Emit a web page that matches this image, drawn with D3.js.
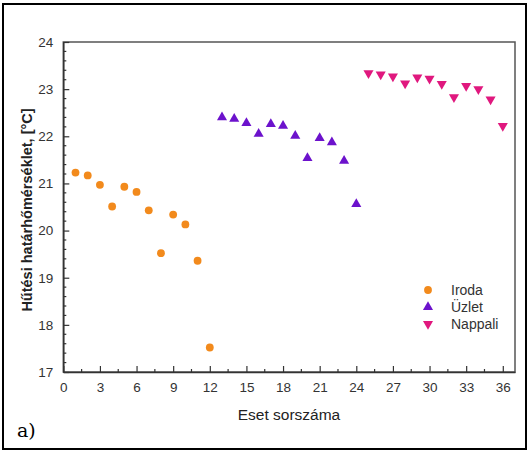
<!DOCTYPE html>
<html><head><meta charset="utf-8">
<script src="https://cdnjs.cloudflare.com/ajax/libs/d3/7.8.5/d3.min.js"></script>
<style>body{margin:0;background:#fff}svg{display:block}</style>
</head><body>
<svg id="c" width="530" height="452"></svg>
<script>
const irodaX = [1,2,3,4,5,6,7,8,9,10,11,12];
const irodaY = [21.23,21.17,20.97,20.51,20.93,20.82,20.43,19.52,20.34,20.13,19.36,17.52];
const uzletX = [13,14,15,16,17,18,19,20,21,22,23,24];
const uzletY = [22.40,22.37,22.28,22.05,22.26,22.22,22.01,21.54,21.96,21.87,21.48,20.56];
const nappaliX = [25,26,27,28,29,30,31,32,33,34,35,36];
const nappaliY = [23.34,23.31,23.27,23.12,23.25,23.22,23.11,22.83,23.07,23.00,22.78,22.22];
const xTicks = [0,3,6,9,12,15,18,21,24,27,30,33,36];
const yTicks = [17,18,19,20,21,22,23,24];
const seriesNames = ["Iroda","Üzlet","Nappali"];
const colors = ["#F28A1C","#6C12CC","#E0187E"];

const svg = d3.select("#c");
const L=63.3, R=515, T=42, B=372;
const x = d3.scaleLinear().domain([0,37]).range([L,R]);
const y = d3.scaleLinear().domain([17,24]).range([B,T]);

svg.append("rect").attr("x",3).attr("y",4).attr("width",523).attr("height",445)
  .attr("fill","none").attr("stroke","#000").attr("stroke-width",2);

svg.append("rect").attr("x",L).attr("y",T).attr("width",R-L).attr("height",B-T)
  .attr("fill","none").attr("stroke","#555").attr("stroke-width",1.5);

const g = svg.append("g");
const xMinor = d3.range(1.5,37,3);
g.selectAll(".xm").data(xMinor).enter().append("line")
  .attr("x1",d=>x(d)).attr("x2",d=>x(d)).attr("y1",B).attr("y2",B-3)
  .attr("stroke","#333").attr("stroke-width",1.2);
const yMinor = d3.range(17,24,0.2).filter(v=>Math.abs(v-Math.round(v))>0.01);
g.selectAll(".ym").data(yMinor).enter().append("line")
  .attr("x1",L).attr("x2",L+3).attr("y1",d=>y(d)).attr("y2",d=>y(d))
  .attr("stroke","#333").attr("stroke-width",1.2);

const xAxis = d3.axisBottom(x).tickValues(xTicks).tickFormat(d3.format("d")).tickSizeInner(-6).tickSizeOuter(0).tickPadding(10);
const gx = svg.append("g").attr("transform",`translate(0,${B})`).call(xAxis);
const yAxis = d3.axisLeft(y).tickValues(yTicks).tickFormat(d3.format("d")).tickSizeInner(-6).tickSizeOuter(0).tickPadding(10);
const gy = svg.append("g").attr("transform",`translate(${L},0)`).call(yAxis);
[gx,gy].forEach(a=>{
  a.select(".domain").attr("stroke","#333").attr("stroke-width",1.5);
  a.selectAll(".tick line").attr("stroke","#333").attr("stroke-width",1.2);
  a.selectAll("text").attr("font-family","Liberation Sans, Arial, sans-serif")
    .attr("font-size",13.5).attr("fill","#333");
});

const circ = d3.symbol().type(d3.symbolCircle).size(48);
const tri = d3.symbol().type(d3.symbolTriangle).size(44);

svg.append("g").selectAll("path").data(irodaX.map((v,i)=>[v,irodaY[i]])).enter()
  .append("path").attr("d",circ).attr("fill",colors[0])
  .attr("transform",d=>`translate(${x(d[0])},${y(d[1])})`);
svg.append("g").selectAll("path").data(uzletX.map((v,i)=>[v,uzletY[i]])).enter()
  .append("path").attr("d",tri).attr("fill",colors[1])
  .attr("transform",d=>`translate(${x(d[0])},${y(d[1])})`);
svg.append("g").selectAll("path").data(nappaliX.map((v,i)=>[v,nappaliY[i]])).enter()
  .append("path").attr("d",tri).attr("fill",colors[2])
  .attr("transform",d=>`translate(${x(d[0])},${y(d[1])}) rotate(180)`);

const syms = [circ, tri, tri];
const lg = svg.append("g").attr("transform","translate(428,290)");
seriesNames.forEach((n,i)=>{
  const row = lg.append("g").attr("transform",`translate(0,${i*17})`);
  row.append("path").attr("d",syms[i]).attr("fill",colors[i])
    .attr("transform", i===2 ? "rotate(180)" : null);
  row.append("text").attr("x",23).attr("y",5).text(n)
    .attr("font-family","Liberation Sans, Arial, sans-serif").attr("font-size",14).attr("fill","#333");
});

svg.append("text").attr("x",289).attr("y",420).attr("text-anchor","middle")
  .attr("font-family","Liberation Sans, Arial, sans-serif").attr("font-size",15.5).attr("fill","#222")
  .text("Eset sorszáma");
svg.append("text").attr("transform","translate(32,210) rotate(-90)").attr("text-anchor","middle")
  .attr("font-family","Liberation Sans, Arial, sans-serif").attr("font-size",14.5).attr("font-weight","bold").attr("fill","#222")
  .text("Hűtési határhőmérséklet, [°C]");

svg.append("text").attr("x",17).attr("y",437)
  .attr("font-family","DejaVu Serif, Liberation Serif, serif").attr("font-size",19).attr("fill","#000")
  .text("a)");
</script>
</body></html>
